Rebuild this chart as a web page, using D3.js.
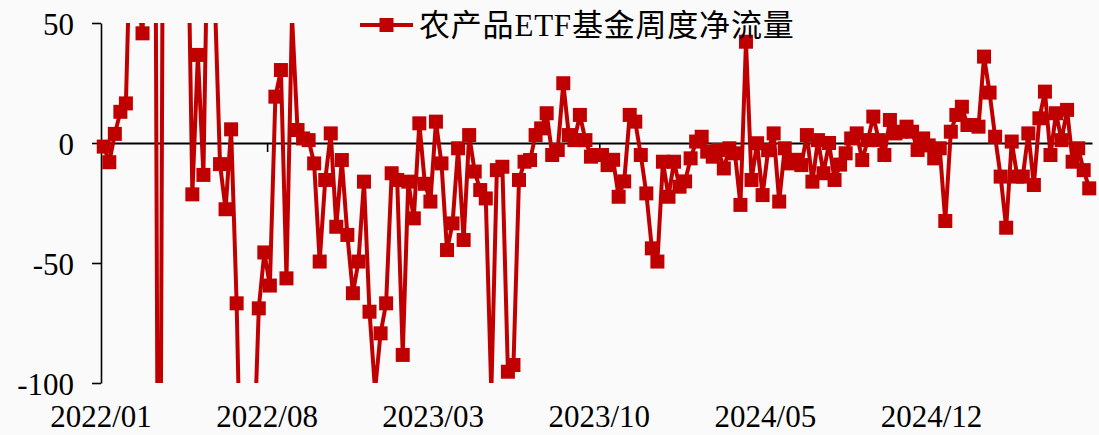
<!DOCTYPE html>
<html>
<head>
<meta charset="utf-8">
<script src="https://cdn.jsdelivr.net/npm/d3@7"></script>
<style>
  html, body { margin: 0; padding: 0; background: #fafafa; }
  svg { display: block; font-family: "Liberation Serif", "Times New Roman", "Noto Sans CJK SC", serif; }
</style>
</head>
<body>
<svg class="flow-chart" width="1099" height="435"></svg>
<script>
const seriesName = "农产品ETF基金周度净流量";

// weekly net flow, one value per week (values beyond the axis range are clipped in the chart)
const flows = [
  -1.5, -8, 3.8, 13, 16.5, 105, 62, 45.7, 120, 300,
  -300, 300, 140, 100, 130, 123, -21.4, 36.7, -13.3, 125,
  65, -8.8, -27.6, 5.7, -66.8, -175, -160, -138, -68.9, -45.6,
  -59.4, 19.3, 30.4, -56.4, 53, 5.4, 1.9, 1.2, -8.5, -49.4,
  -15.4, 4, -34.9, -7.1, -38.3, -62.6, -49.4, -16.1, -70.3, -103,
  -79.3, -66.8, -12.6, -15.4, -88.3, -16.1, -31.4, 8.2, -17, -24.4,
  8.9, -8.5, -44.6, -33.5, -2.2, -40.4, 3.3, -11.9, -19.6, -23.1,
  -104, -11.3, -9.9, -95.3, -92.5, -15.4, -7.8, -7.1, 3.3, 6.1,
  12.4, -5, -2.9, 24.9, 3.3, 1.2, 11.7, 1.2, -5.7, -5,
  -5, -9.2, -7, -22.4, -16, 11.7, 8.9, -5, -21, -43.9,
  -49.4, -7.8, -22.4, -7.8, -18.2, -16, -6.4, 0.6, 2.6, -3.6,
  -5.7, -2.9, -10.6, -2.2, -4.3, -25.8, 42.2, -15.4, -0.1, -21.7,
  -3, 4, -24.4, -2.2, -8.5, -7, -9.2, 3.3, -16.1, 1.2,
  -12.6, 0, -15.4, -9, -4.3, 1.9, 4, -7.1, 1.2, 11,
  1.2, -5, 9.6, 4, 4.7, 6.8, 4.7, -2.9, 1.9, -1,
  -6.4, -2.2, -32.5, 4.7, 11.7, 15.1, 7.5, 7.5, 6.8, 36,
  21, 2.6, -14, -35.3, 0.6, -14, -14, 4, -17.5, 10.3,
  21.4, -5, 12.4, 1.2, 13.8, -7.8, -2.2, -11.3, -18.9
];

const tickLabels = ["2022/01", "2022/08", "2023/03", "2023/10", "2024/05", "2024/12"];
const tickEvery = 30;               // one date label every 30 weeks
const yTicks = [-100, -50, 0, 50];

const red = "#c00000";

const svg = d3.select("svg.flow-chart");
const margin = {top: 23, right: 7, bottom: 52, left: 101};
const width = +svg.attr("width") - margin.left - margin.right;
const height = +svg.attr("height") - margin.top - margin.bottom;
const g = svg.append("g").attr("transform", `translate(${margin.left}, ${margin.top})`);

const x = d3.scaleLinear().domain([-0.5, flows.length - 0.5]).range([0, width]);
const y = d3.scaleLinear().domain([-100, 50]).range([height, 0]);

svg.append("defs").append("clipPath").attr("id", "plot-clip")
  .append("rect")
    .attr("x", -20)
    .attr("y", 0)
    .attr("width", width + 40)
    .attr("height", height);

// y axis (plain hyphen for negatives, as in the source)
const yAxis = g.append("g")
    .attr("class", "axis axis--y")
    .call(d3.axisLeft(y).tickValues(yTicks).tickSize(9).tickSizeOuter(0).tickPadding(18).tickFormat(d => String(d)))
    .attr("font-family", null)
    .attr("font-size", null);
yAxis.select(".domain").attr("stroke", "#000").attr("stroke-width", 1.6);
yAxis.selectAll(".tick line").attr("stroke", "#000").attr("stroke-width", 1.6);
yAxis.selectAll(".tick text")
    .attr("fill", "#000")
    .attr("font-size", "31px")
    .attr("dy", "0.36em");

// zero line with week ticks
const xAxis = g.append("g")
    .attr("class", "axis axis--x")
    .attr("transform", `translate(0, ${y(0)})`)
    .call(d3.axisBottom(x)
      .tickValues(tickLabels.map((d, k) => k * tickEvery - 0.5).filter(v => v > 0))
      .tickSize(9)
      .tickSizeOuter(0)
      .tickFormat(() => ""));
xAxis.select(".domain").attr("stroke", "#000").attr("stroke-width", 2);
xAxis.selectAll(".tick line").attr("stroke", "#000").attr("stroke-width", 1.6);

g.append("g")
    .attr("class", "x-labels")
  .selectAll("text")
  .data(tickLabels)
  .join("text")
    .attr("x", (d, k) => x(k * tickEvery - 0.5))
    .attr("y", 427 - margin.top)
    .attr("text-anchor", "middle")
    .attr("font-size", "31px")
    .attr("fill", "#000")
    .text(d => d);

// series
const line = d3.line()
    .x((d, i) => x(i))
    .y(d => y(d));

const plot = g.append("g").attr("clip-path", "url(#plot-clip)");

plot.append("path")
    .datum(flows)
    .attr("class", "line")
    .attr("fill", "none")
    .attr("stroke", red)
    .attr("stroke-width", 4)
    .attr("stroke-linejoin", "miter")
    .attr("d", line);

const ms = 14;
plot.selectAll("rect.marker")
  .data(flows)
  .join("rect")
    .attr("class", "marker")
    .attr("x", (d, i) => x(i) - ms / 2)
    .attr("y", d => y(d) - ms / 2)
    .attr("width", ms)
    .attr("height", ms)
    .attr("fill", red);

// legend
const legend = svg.append("g").attr("class", "legend").attr("transform", "translate(360, 25)");
legend.append("line")
    .attr("x1", 0).attr("x2", 53)
    .attr("y1", 0).attr("y2", 0)
    .attr("stroke", red)
    .attr("stroke-width", 4);
legend.append("rect")
    .attr("x", 26.5 - ms / 2).attr("y", -ms / 2)
    .attr("width", ms).attr("height", ms)
    .attr("fill", red);
legend.append("text")
    .attr("x", 59)
    .attr("y", 11)
    .attr("font-size", "31px")
    .attr("letter-spacing", "0.8px")
    .attr("fill", "#000")
    .text(seriesName);
</script>
</body>
</html>
